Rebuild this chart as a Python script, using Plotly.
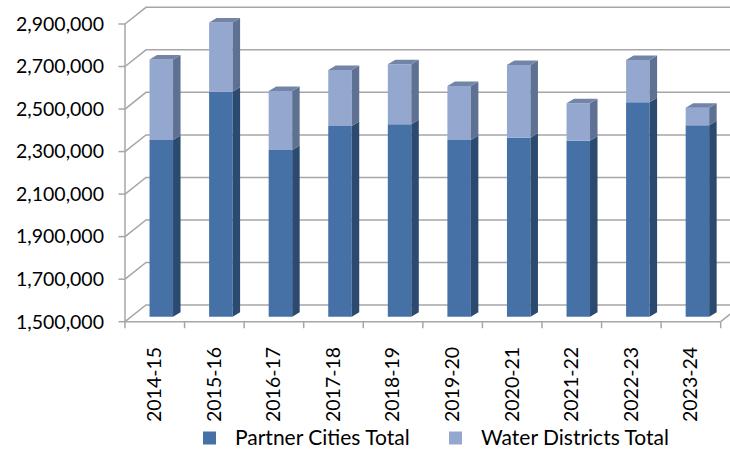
import plotly.graph_objects as go

# ---------------- data ----------------
categories = ["2014-15", "2015-16", "2016-17", "2017-18", "2018-19",
              "2019-20", "2020-21", "2021-22", "2022-23", "2023-24"]
partner_cities = [2331000, 2558000, 2284000, 2397000, 2405000,
                  2331000, 2342000, 2328000, 2508000, 2400000]
water_districts = [379000, 326000, 277000, 263000, 282000,
                   254000, 342000, 176000, 199000, 83000]
y_ticks = [1500000, 1700000, 1900000, 2100000, 2300000, 2500000, 2700000, 2900000]
series_names = ["Partner Cities Total", "Water Districts Total"]

# ---------------- geometry (pixels -> data units) ----------------
W, H = 730, 449
ML, MR, MT, MB = 115, 0, 5, 115
AX_LEFT_PX = 125.0      # front y-axis line
FLOOR_PX = 321.7        # front floor edge (value 1.5M)
TOPTICK_PX = 24.0       # front tick of 2.9M
U = 59.57               # px per category
K = (y_ticks[-1] - y_ticks[0]) / (FLOOR_PX - TOPTICK_PX)   # value per px

def dx(p):
    return p / U

def dy(p):
    return p * K

def paper_x(px):
    return (px - ML) / (W - ML - MR)

def paper_y(py):
    return (H - MB - py) / (H - MT - MB)

x_min = -0.5 - dx(AX_LEFT_PX - ML)
x_max = -0.5 + dx(W - MR - AX_LEFT_PX)
y_min = y_ticks[0] - dy(H - MB - FLOOR_PX)
y_max = y_ticks[-1] + dy(TOPTICK_PX - MT)

n = len(categories)
idx = list(range(n))
base_v = y_ticks[0]

# 3D projection constants
wall_dx, wall_dy = dx(21), dy(16.7)
bar_w = dx(23.5)
bar_off = dx(6.5) - bar_w / 2
lift = dy(5)
depth_dx, depth_dy = dx(7.5), dy(4.5)

c_partner, c_partner_side = "#4571A7", "#2C4A70"
c_water, c_water_side, c_top = "#94A8CF", "#5E7192", "#7385A6"
grid_c = "#A6A6A6"
font_family = "Lato"
fs = 19.5

totals = [p + w for p, w in zip(partner_cities, water_districts)]

fig = go.Figure()

# front faces (data bars)
fig.add_trace(go.Bar(
    x=idx, y=[p - base_v for p in partner_cities], base=base_v + lift,
    offset=bar_off, width=bar_w, name=series_names[0],
    marker=dict(color=c_partner, line=dict(width=0)), hoverinfo="skip"))
fig.add_trace(go.Bar(
    x=idx, y=water_districts, base=[p + lift for p in partner_cities],
    offset=bar_off, width=bar_w, name=series_names[1],
    marker=dict(color=c_water, line=dict(width=0)), hoverinfo="skip"))


def side_polys(bottoms, tops):
    xs, ys = [], []
    for i in idx:
        xr = i + bar_off + bar_w
        yb, yt = bottoms[i] + lift, tops[i] + lift
        xs += [xr, xr + depth_dx, xr + depth_dx, xr, xr, None]
        ys += [yb, yb + depth_dy, yt + depth_dy, yt, yb, None]
    return xs, ys


def top_polys(tops):
    xs, ys = [], []
    for i in idx:
        xl = i + bar_off
        xr = xl + bar_w
        yt = tops[i] + lift
        xs += [xl, xl + depth_dx, xr + depth_dx, xr, xl, None]
        ys += [yt, yt + depth_dy, yt + depth_dy, yt, yt, None]
    return xs, ys


for (bots, tops, col) in [([base_v] * n, partner_cities, c_partner_side),
                          (partner_cities, totals, c_water_side)]:
    xs, ys = side_polys(bots, tops)
    fig.add_trace(go.Scatter(x=xs, y=ys, mode="lines", fill="toself",
                             fillcolor=col, line=dict(width=0, color=col),
                             showlegend=False, hoverinfo="skip"))
xs, ys = top_polys(totals)
fig.add_trace(go.Scatter(x=xs, y=ys, mode="lines", fill="toself",
                         fillcolor=c_top, line=dict(width=0, color=c_top),
                         showlegend=False, hoverinfo="skip"))

# ---------------- walls / floor decorations ----------------
shapes = []
line_style = dict(color=grid_c, width=1.5)
for v in y_ticks:
    shapes.append(dict(type="path", xref="x", yref="y", layer="below",
                       path=f"M{-0.5},{v} L{-0.5 + wall_dx},{v + wall_dy} L{x_max},{v + wall_dy}",
                       line=line_style))
    shapes.append(dict(type="line", xref="x", yref="y", layer="below",
                       x0=-0.5 - dx(6.5), x1=-0.5, y0=v, y1=v, line=line_style))
# front y axis
shapes.append(dict(type="line", xref="x", yref="y", layer="below",
                   x0=-0.5, x1=-0.5, y0=y_ticks[0], y1=y_ticks[-1], line=line_style))
# floor front edge and right edge
shapes.append(dict(type="line", xref="x", yref="y", layer="below",
                   x0=-0.5, x1=n - 0.5, y0=base_v, y1=base_v, line=line_style))
shapes.append(dict(type="line", xref="x", yref="y", layer="below",
                   x0=n - 0.5, x1=n - 0.5 + wall_dx, y0=base_v, y1=base_v + wall_dy,
                   line=line_style))
for k in range(n + 1):
    shapes.append(dict(type="line", xref="x", yref="y", layer="below",
                       x0=k - 0.5, x1=k - 0.5, y0=base_v, y1=base_v - dy(6.5),
                       line=line_style))

# ---------------- legend (swatches + text) ----------------
annotations = []
legend_items = [(series_names[0], c_partner, 203, 235),
                (series_names[1], c_water, 449, 481)]
LEG_Y = 436.5
for name, col, sx, tx in legend_items:
    shapes.append(dict(type="rect", xref="paper", yref="paper", layer="above",
                       x0=paper_x(sx), x1=paper_x(sx + 13),
                       y0=paper_y(LEG_Y + 1.5 - 6.5), y1=paper_y(LEG_Y + 1.5 + 6.5),
                       fillcolor=col, line=dict(width=0)))
    annotations.append(dict(xref="paper", yref="paper", x=paper_x(tx - 1),
                            y=paper_y(LEG_Y), xanchor="left", yanchor="middle",
                            text=name, showarrow=False, borderpad=0,
                            font=dict(family=font_family, size=21, color="#000000")))

fig.update_layout(
    width=W, height=H,
    margin=dict(l=ML, r=MR, t=MT, b=MB, pad=0),
    paper_bgcolor="white", plot_bgcolor="white",
    barmode="overlay",
    shapes=shapes,
    annotations=annotations,
    showlegend=False,
    font=dict(family=font_family, size=fs, color="#000000"),
    xaxis=dict(range=[x_min, x_max], tickvals=idx, ticktext=categories,
               tickangle=-90, ticks="", showgrid=False, showline=False,
               zeroline=False, ticklabelstandoff=8,
               tickfont=dict(family=font_family, size=fs, color="#000000")),
    yaxis=dict(range=[y_min, y_max], tickvals=y_ticks,
               ticktext=[f"{v:,}" for v in y_ticks], ticks="",
               showgrid=False, showline=False, zeroline=False,
               ticklabelstandoff=10,
               tickfont=dict(family=font_family, size=fs, color="#000000")),
)

fig.write_html("out.html", config={"displayModeBar": False},
               post_script="document.body.style.margin='0';document.body.style.padding='0';")
